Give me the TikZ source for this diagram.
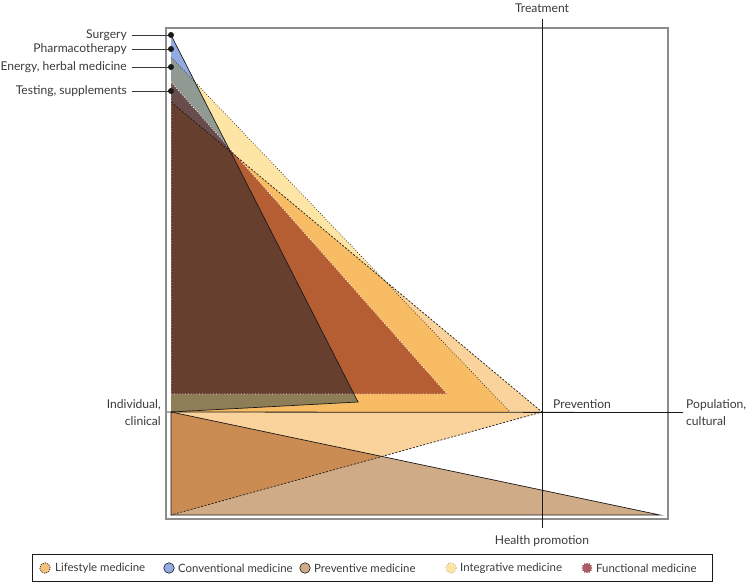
\documentclass[tikz,border=0pt]{standalone}
\usepackage{fontspec}
\setmainfont{Lato}
\usetikzlibrary{shapes.geometric}
\definecolor{txt}{HTML}{3A3A3A}
\definecolor{dark}{HTML}{1A1A1A}
\definecolor{conv}{HTML}{92ABE2}
\definecolor{integ}{HTML}{FDE5A5}
\definecolor{life}{HTML}{FAD29C}
\definecolor{prev}{HTML}{CFAB87}
\definecolor{func}{HTML}{BB8086}
\definecolor{framec}{HTML}{8C8C8C}
\definecolor{lifesym}{HTML}{F7C07A}
\definecolor{funcsym}{HTML}{A85C66}
\begin{document}
\begin{tikzpicture}[x=1pt,y=-1pt,
  lbl/.style={font=\fontsize{12.1}{16.5}\selectfont, text=txt, inner sep=0pt},
  leglbl/.style={font=\fontsize{11.4}{13}\selectfont, text=txt, inner sep=0pt, anchor=west},
  leader/.style={draw=txt, line width=0.6pt},
  dotmark/.style={fill=dark},
  outl/.style={draw=dark, line width=0.7pt},
  symb/.style={circle, minimum size=10.5pt, inner sep=0pt, line width=0.6pt}]
\useasboundingbox (0,0) rectangle (746,583);
% key points
\coordinate (Ctop) at (171,35);
\coordinate (Cr) at (358,402);
\coordinate (O) at (171,412);
\coordinate (Itop) at (171,57);
\coordinate (Ir) at (510,412);
\coordinate (Ltop) at (171,102);
\coordinate (Lr) at (542,412);
\coordinate (Lb) at (171,515);
\coordinate (Pr) at (660,515);
\coordinate (Ftop) at (171,82);
\coordinate (Fr) at (447,394);
\coordinate (Fl) at (171,394);
\coordinate (Dph) at (171,49);
\coordinate (Den) at (171,67);
\coordinate (Dte) at (171,91);
% fills (multiply)
\begin{scope}[blend group=multiply]
\fill[integ] (Itop) -- (Ir) -- (O) -- cycle;
\fill[life] (Ltop) -- (Lr) -- (Lb) -- cycle;
\fill[prev] (O) -- (Pr) -- (Lb) -- cycle;
\fill[conv] (Ctop) -- (Cr) -- (O) -- cycle;
\fill[func] (Ftop) -- (Fr) -- (Fl) -- cycle;
\end{scope}
% outlines
\draw[white, dotted, line width=0.8pt] (Ftop) -- (Fr) -- (Fl) -- cycle;
\draw[dark, dotted, line width=0.7pt] (Itop) -- (Ir);
\draw[dark, dash pattern=on 2pt off 1.6pt, line width=0.7pt] (Ltop) -- (Lr) -- (Lb);
\draw[outl] (O) -- (Pr) -- (Lb) -- cycle;
\draw[outl] (Ctop) -- (Cr) -- (O);
% frame
\draw[framec, line width=1.1pt] (166,28) rectangle (668,519);
% axis labels
\node[lbl] (treat) at (542,8) {Treatment};
\node[lbl] (health) at (542,541) {Health promotion};
\node[lbl, anchor=west, align=left] (popul) at (686,412.5) {Population,\\cultural};
\node[lbl, anchor=east, align=right] (indiv) at (161,412.5) {Individual,\\clinical};
\node[lbl, anchor=west] (prevn) at (553,404) {Prevention};
\coordinate (hleft) at (167,412);
\coordinate (vtop) at (542,19);
\coordinate (vbot) at (542,528);
\draw[dark, line width=0.8pt] (vtop) -- (vbot);
\draw[dark, line width=0.8pt] (hleft) -- ([xshift=-3pt]popul.west);
% left labels
\node[lbl, anchor=east] (surg) at (127,35) {Surgery};
\node[lbl, anchor=east] (pharm) at (127,49) {Pharmacotherapy};
\node[lbl, anchor=east] (energ) at (127,67) {Energy, herbal medicine};
\node[lbl, anchor=east] (testg) at (127,91) {Testing, supplements};
\draw[leader] ([xshift=5pt]surg.east) -- (Ctop);
\draw[leader] ([xshift=5pt]pharm.east) -- (Dph);
\draw[leader] ([xshift=5pt]energ.east) -- (Den);
\draw[leader] ([xshift=5pt]testg.east) -- (Dte);
\foreach \p in {Ctop,Dph,Den,Dte} \fill[dotmark] (\p) circle (3pt);
% legend
\node[draw=dark, line width=0.6pt, minimum width=680pt, minimum height=27pt, inner sep=0pt] (legend) at (372,567.5) {};
\node[symb, fill=lifesym, draw=dark, dash pattern=on 1.3pt off 1pt] (s1) at (45,568) {};
\node[leglbl] (t1) at (55,568) {Lifestyle medicine};
\node[symb, fill=conv, draw=dark] (s2) at (169,568) {};
\node[leglbl] (t2) at (178,568) {Conventional medicine};
\node[symb, fill=prev, draw=dark] (s3) at (305,568) {};
\node[leglbl] (t3) at (314,568) {Preventive medicine};
\node[symb, fill=integ, draw=dark!60, dotted] (s4) at (451,568) {};
\node[leglbl] (t4) at (460,568) {Integrative medicine};
\node[star, star points=12, star point ratio=1.35, minimum size=11pt, inner sep=0pt, fill=funcsym] (s5) at (587,568) {};
\node[leglbl] (t5) at (596,568) {Functional medicine};
\end{tikzpicture}
\end{document}
